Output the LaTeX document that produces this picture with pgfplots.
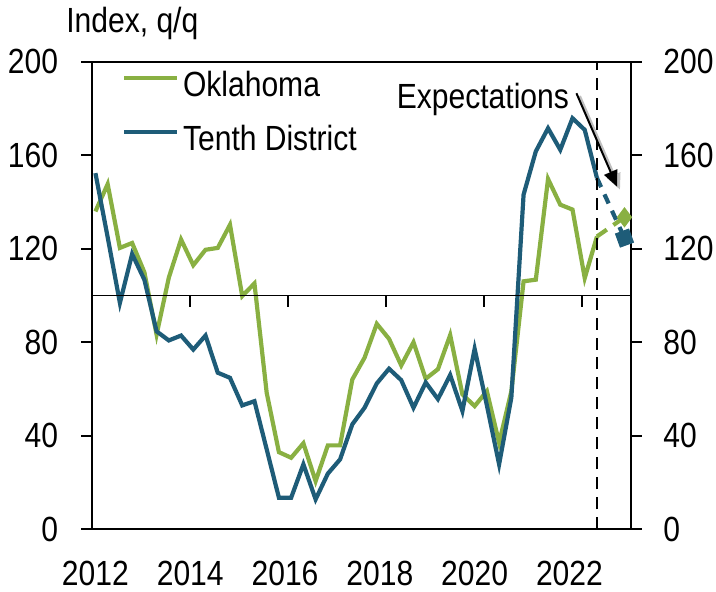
\documentclass[border=0pt]{standalone}
\usepackage{fontspec}
\setmainfont{Liberation Sans}[FakeStretch=0.86]
\usepackage{pgfplots}
\usepackage{pgfplotstable}
\pgfplotsset{compat=1.18}
\usetikzlibrary{arrows.meta}
\definecolor{okGreen}{RGB}{137,176,66}
\definecolor{tdBlue}{RGB}{30,92,120}

% quarter index: 0 = 2012Q1
\pgfplotstableread{
q  ok     td
0  136    152.4
1  147.7  125
2  120.4  96.9
3  122.5  117.8
4  110    106.8
5  83.3   84.7
6  107.7  80.8
7  124    82.9
8  113    76.9
9  119.6  82.9
10 120.4  67
11 130.3  64.8
12 99.8   53
13 105.2  54.8
14 58.4   34.2
15 33     13.5
16 30.6   13.5
17 36.8   27.8
18 20.6   12.8
19 35.9   23.8
20 35.9   29.9
21 64.1   44.9
22 73.4   52
23 87.9   62.4
24 81.5   68.7
25 70.1   63.8
26 80     52
27 64.4   62.8
28 68.5   55.7
29 83.1   66
30 57.7   50.6
31 52.7   77.2
32 59.1   53
33 37     27.8
34 59     56.3
35 106.1  143.2
36 106.8  161.7
37 149.9  171.6
38 138.9  162.4
39 136.8  175.9
40 107.5  170.9
41 125.3  150.3
}\datatable

\begin{document}
\begin{tikzpicture}[font=\fontsize{17.5}{21}\selectfont]
\begin{axis}[
  name=main,
  scale only axis, width=269.5pt, height=234pt,
  xmin=-0.25, xmax=43.75, ymin=0, ymax=200,
  ytick={0,40,...,200}, ytick pos=both, yticklabel pos=left,
  tick align=outside, major tick length=5.5pt,
  xtick={0,7.75,15.5,23.25,31,38.75},
  xticklabels={2012,2014,2016,2018,2020,2022},
  x tick style={draw=none},
  xticklabel style={anchor=base, inner sep=0pt, yshift=-22.5pt},
  yticklabel style={anchor=east, inner sep=0pt, xshift=-11.5pt},
  axis line style={line width=0.9pt, black},
  tick style={line width=0.9pt, black},
  /pgf/number format/assume math mode=true,
  legend style={at={(rel axis cs:0.0545,0.99)}, anchor=north west, draw=none, fill=none,
    inner sep=0pt, row sep=9pt, font=\fontsize{17.5}{21}\selectfont},
  legend cell align=left,
  legend image code/.code={\draw[#1, line width=2pt] (0pt,0.36em) -- (26.5pt,0.36em);},
]
\addplot[okGreen, line width=2.1pt] table[x=q, y=ok] {\datatable};
\addlegendentry{Oklahoma}
\addplot[tdBlue, line width=2.1pt] table[x=q, y=td] {\datatable};
\addlegendentry{Tenth District}
% expectations
\addplot[okGreen, line width=2.1pt, dash pattern=on 6pt off 4pt, forget plot,
  mark=diamond*, mark size=3.4pt, mark indices={2}, mark options={solid, fill=okGreen}]
  coordinates {(41,125.3)(43.25,133.5)};
\addplot[tdBlue, line width=2.1pt, dash pattern=on 5pt off 4pt, forget plot,
  mark=square*, mark size=2.7pt, mark indices={2}, mark options={solid, rotate=20, fill=tdBlue}]
  coordinates {(41,150.3)(43.25,124.6)};
% line at 100 with category ticks
\addplot[black, line width=0.9pt, forget plot] coordinates {(-0.25,100)(43.75,100)};
\pgfplotsinvokeforeach{7.75,15.75,23.75,31.75,39.75}{
  \draw[black, line width=0.9pt] (axis cs:#1,100) -- ++(0pt,-5.5pt);
}
\draw[black, line width=1.2pt, dash pattern=on 6pt off 4pt] (axis cs:41,0) -- (axis cs:41,200);
% arrow with soft shadow
\draw[black!25, line width=1.6pt, -{Triangle[length=8pt,width=7pt]}]
  ([xshift=1.5pt,yshift=-1.5pt]axis cs:39.32,186.6) -- ([xshift=1.5pt,yshift=-1.5pt]axis cs:42.64,146.6);
\draw[black, line width=1pt, -{Triangle[length=8pt,width=7pt]}]
  (axis cs:39.32,186.6) -- (axis cs:42.64,146.6);
\end{axis}
\begin{axis}[
  scale only axis, width=269.5pt, height=234pt,
  xmin=-0.25, xmax=43.75, ymin=0, ymax=200,
  hide x axis, axis y line*=right,
  y axis line style={draw=none},
  ytick={0,40,...,200}, major tick length=0pt,
  yticklabel style={anchor=west, inner sep=0pt, xshift=16.25pt},
  /pgf/number format/assume math mode=true,
]
\addplot[draw=none] coordinates {(0,0)};
\end{axis}
\node[anchor=base west, inner sep=0pt] at ([xshift=-13.25pt, yshift=14.5pt]main.north west) {Index, q/q};
\node[anchor=base west, inner sep=0pt] at ([xshift=152.25pt, yshift=-23.5pt]main.north west) {Expectations};
\pgfresetboundingbox
\path[use as bounding box] ([xshift=-46.25pt, yshift=-31pt]main.south west) rectangle ([xshift=42.75pt, yshift=31pt]main.north east);
\end{tikzpicture}
\end{document}
